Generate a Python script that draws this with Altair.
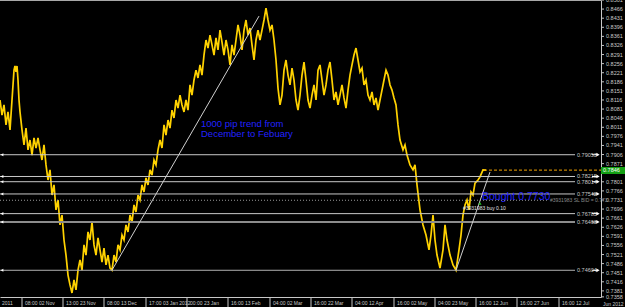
import altair as alt
import pandas as pd

# ---- price series (bar index, close) ----
bar = [0, 2, 4, 6, 8, 10, 12, 14, 15, 16, 17, 18, 19, 20, 22, 24, 26, 28, 30, 32, 34, 36, 38, 40,
       42, 44, 46, 48, 50, 52, 54, 56, 58, 60, 62, 64, 66, 68, 70, 72, 74, 76, 78, 80, 82, 84, 86,
       88, 90, 92, 94, 96, 98, 100, 102, 104, 106, 108, 110, 112, 114, 116, 118, 120, 122, 124,
       126, 128, 130, 132, 134, 136, 138, 140, 142, 144, 146, 148, 150, 152, 154, 156, 158, 160,
       162, 164, 166, 168, 170, 172, 174, 176, 178, 180, 182, 184, 186, 188, 190, 192, 194, 196,
       198, 200, 202, 204, 206, 208, 210, 212, 214, 216, 218, 220, 222, 224, 226, 228, 230, 232,
       234, 236, 238, 240, 242, 244, 246, 248, 250, 252, 254, 256, 258, 260, 262, 264, 266, 268,
       270, 272, 274, 276, 278, 280, 282, 284, 286, 288, 290, 292, 294, 296, 298, 300, 302, 304,
       306, 308, 310, 312, 314, 316, 318, 320, 322, 324, 326, 328, 330, 332, 334, 336, 338, 340,
       342, 344, 346, 348, 350, 352, 354, 356, 358, 360, 362, 364, 366, 368, 370, 372, 374, 376,
       378, 380, 382, 384, 386, 388, 390, 392, 394, 396, 398, 400, 403, 405, 407, 410, 413, 415,
       417, 420, 423, 426, 429, 431, 433, 435, 437, 440, 443, 445, 447, 450, 453, 456, 459, 461,
       463, 465, 467, 469, 471, 473, 475, 478, 480, 483, 486]
price = [0.8116, 0.8058, 0.8097, 0.8020, 0.8070, 0.8001, 0.8116, 0.8231, 0.8247, 0.8224, 0.8247,
         0.8193, 0.8116, 0.8070, 0.8001, 0.7943, 0.8008, 0.7924, 0.7962, 0.7904, 0.7970, 0.7931,
         0.7970, 0.7924, 0.7885, 0.7943, 0.7866, 0.7808, 0.7847, 0.7750, 0.7789, 0.7693, 0.7731,
         0.7635, 0.7673, 0.7577, 0.7519, 0.7442, 0.7404, 0.7373, 0.7423, 0.7385, 0.7461, 0.7500,
         0.7461, 0.7558, 0.7519, 0.7608, 0.7577, 0.7646, 0.7558, 0.7519, 0.7585, 0.7539, 0.7492,
         0.7546, 0.7481, 0.7519, 0.7469, 0.7461, 0.7519, 0.7492, 0.7558, 0.7539, 0.7596, 0.7577,
         0.7635, 0.7608, 0.7673, 0.7646, 0.7712, 0.7685, 0.7750, 0.7731, 0.7789, 0.7762, 0.7816,
         0.7789, 0.7847, 0.7827, 0.7885, 0.7866, 0.7924, 0.7962, 0.7931, 0.8020, 0.7981, 0.8039,
         0.8008, 0.8077, 0.8047, 0.8116, 0.8085, 0.8135, 0.8097, 0.8070, 0.8116, 0.8077, 0.8174,
         0.8135, 0.8193, 0.8231, 0.8201, 0.8251, 0.8212, 0.8289, 0.8347, 0.8316, 0.8366, 0.8328,
         0.8289, 0.8355, 0.8309, 0.8385, 0.8339, 0.8289, 0.8347, 0.8309, 0.8251, 0.8328, 0.8289,
         0.8347, 0.8405, 0.8366, 0.8309, 0.8385, 0.8424, 0.8366, 0.8393, 0.8328, 0.8270, 0.8347,
         0.8385, 0.8347, 0.8385, 0.8424, 0.8470, 0.8424, 0.8385, 0.8405, 0.8347, 0.8270, 0.8162,
         0.8097, 0.8135, 0.8231, 0.8270, 0.8212, 0.8174, 0.8239, 0.8193, 0.8116, 0.8077, 0.8135,
         0.8212, 0.8262, 0.8193, 0.8116, 0.8085, 0.8135, 0.8174, 0.8116, 0.8231, 0.8251, 0.8193,
         0.8135, 0.8174, 0.8231, 0.8262, 0.8193, 0.8116, 0.8147, 0.8097, 0.8135, 0.8174, 0.8124,
         0.8085, 0.8154, 0.8212, 0.8251, 0.8289, 0.8316, 0.8270, 0.8224, 0.8239, 0.8174, 0.8193,
         0.8135, 0.8116, 0.8147, 0.8097, 0.8124, 0.8077, 0.8116, 0.8154, 0.8193, 0.8231, 0.8212,
         0.8174, 0.8154, 0.8124, 0.8097, 0.8020, 0.7962, 0.7924, 0.7943, 0.7904, 0.7866, 0.7847,
         0.7866, 0.7789, 0.7693, 0.7635, 0.7596, 0.7539, 0.7596, 0.7673, 0.7577, 0.7519, 0.7469,
         0.7539, 0.7635, 0.7577, 0.7519, 0.7481, 0.7461, 0.7539, 0.7596, 0.7673, 0.7712, 0.7731,
         0.7693, 0.7762, 0.7750, 0.7796, 0.7808, 0.7820, 0.7847, 0.7846]

# ---- price axis (0.7836 sits under the current-price box, so it carries a tick only) ----
y_ticks = [0.8501, 0.8466, 0.8431, 0.8396, 0.8361, 0.8326, 0.8291, 0.8256, 0.8221, 0.8186,
           0.8151, 0.8116, 0.8081, 0.8046, 0.8011, 0.7976, 0.7941, 0.7906, 0.7871, 0.7836,
           0.7801, 0.7766, 0.7731, 0.7696, 0.7661, 0.7626, 0.7591, 0.7556, 0.7521, 0.7486,
           0.7451, 0.7416, 0.7381, 0.7358]
y_labels = [0.8501, 0.8466, 0.8431, 0.8396, 0.8361, 0.8326, 0.8291, 0.8256, 0.8221, 0.8186,
            0.8151, 0.8116, 0.8081, 0.8046, 0.8011, 0.7976, 0.7941, 0.7906, 0.7871,
            0.7801, 0.7766, 0.7731, 0.7696, 0.7661, 0.7626, 0.7591, 0.7556, 0.7521, 0.7486,
            0.7451, 0.7416, 0.7381, 0.7358]

# ---- time axis ----
x_sep = [22, 63, 104, 146, 187, 228, 270, 311, 352, 394, 435, 476, 517, 559]
x_label_pos = [2, 25, 66, 107, 149, 190, 231, 273, 314, 355, 397, 438, 479, 520, 562]
x_labels = ["2011", "08:00 02 Nov", "13:00 23 Nov", "08:00 13 Dec", "17:00 03 Jan 2012",
            "00:00 23 Jan", "16:00 13 Feb", "04:00 02 Mar", "16:00 22 Mar", "04:00 12 Apr",
            "16:00 02 May", "04:00 23 May", "16:00 12 Jun", "16:00 27 Jun", "16:00 12 Jul"]

# ---- horizontal levels ----
levels = [0.79053, 0.78215, 0.78014, 0.77542, 0.76785, 0.76463, 0.74604]
level_text = ["0.79053", "0.78215", "0.78014", "0.77542", "0.76785", "0.76463", "0.74604"]
level_width = [1, 1, 1, 1, 1, 2, 1]
level_color = ["#c8c8c8", "#c8c8c8", "#c8c8c8", "#c8c8c8", "#c8c8c8", "#8c8c8c", "#b0b0b0"]

# trend lines (bar, price)
trend1_bar = [112, 259]
trend1_price = [0.7461, 0.8439]
trend2_bar = [456, 490]
trend2_price = [0.7461, 0.7839]

bought_price = 0.7730
current_price = 0.7846

W, H = 601, 297
xs = alt.Scale(domain=[0, 601], nice=False, zero=False)
ys = alt.Scale(domain=[0.73575, 0.8501], nice=False, zero=False)
FONT = "Liberation Sans"
GRAY = "#c8c8c8"


def X(field):
    return alt.X(field, scale=xs, title=None)


def Y(field):
    return alt.Y(field, scale=ys, title=None)


df = pd.DataFrame({"bar": bar, "price": price})

base_x = alt.X("bar:Q", scale=xs, title=None,
               axis=alt.Axis(labels=False, ticks=False, grid=False, title=None))
base_y = alt.Y("price:Q", scale=ys, title=None,
               axis=alt.Axis(orient="right", labels=False, ticks=False, grid=False, title=None))

series = alt.Chart(df).mark_line(color="#FFD200", strokeWidth=1.7, strokeJoin="miter").encode(
    x=base_x, y=base_y)

# price axis ticks and labels drawn on the y scale
y_tick_marks = alt.Chart(pd.DataFrame({"v": y_ticks})).mark_rule(color=GRAY, strokeWidth=1).encode(
    x=alt.value(601), x2=alt.value(604), y=Y("v:Q"))
y_tick_labels = alt.Chart(pd.DataFrame({"v": y_labels})).mark_text(
    align="left", baseline="middle", fontSize=5.5, color=GRAY, font=FONT).encode(
    x=alt.value(606), y=Y("v:Q"), text=alt.Text("v:Q", format=".4f"))

n = len(levels)
lv = pd.DataFrame({"level": levels, "txt": level_text, "x0": [0] * n, "x1": [575] * n,
                   "a0": [592] * n, "a1": [597] * n, "ar": [598] * n, "al": [2] * n,
                   "w": level_width, "c": level_color, "tx": [577] * n})

level_rules = alt.Chart(lv).mark_rule().encode(
    x=X("x0:Q"), x2="x1:Q", y=Y("level:Q"),
    strokeWidth=alt.StrokeWidth("w:Q", scale=None), color=alt.Color("c:N", scale=None))
level_labels = alt.Chart(lv).mark_text(align="left", baseline="middle", fontSize=5.5,
                                       color=GRAY, font=FONT).encode(
    x=X("tx:Q"), y=Y("level:Q"), text="txt:N")
arrow_stems = alt.Chart(lv).mark_rule(color="white", strokeWidth=1).encode(
    x=X("a0:Q"), x2="a1:Q", y=Y("level:Q"))
arrow_heads = alt.Chart(lv).mark_point(shape="triangle-right", filled=True, color="white",
                                       size=14, opacity=1).encode(x=X("ar:Q"), y=Y("level:Q"))
arrow_left = alt.Chart(lv).mark_point(shape="triangle-left", filled=True, color="white",
                                      size=10, opacity=1).encode(x=X("al:Q"), y=Y("level:Q"))

t1 = pd.DataFrame({"bar": trend1_bar, "price": trend1_price})
t2 = pd.DataFrame({"bar": trend2_bar, "price": trend2_price})
trend1 = alt.Chart(t1).mark_line(color="#d0d0d0", strokeWidth=1).encode(
    x=X("bar:Q"), y=Y("price:Q"))
trend2 = alt.Chart(t2).mark_line(color="#d0d0d0", strokeWidth=1).encode(
    x=X("bar:Q"), y=Y("price:Q"))

bt = pd.DataFrame({"p": [bought_price], "x0": [0], "x1": [548]})
bought_line = alt.Chart(bt).mark_rule(color="#9a9a9a", strokeDash=[1, 2], strokeWidth=1).encode(
    x=X("x0:Q"), x2="x1:Q", y=Y("p:Q"))

cur = pd.DataFrame({"p": [current_price], "x0": [484], "x1": [601]})
cur_line = alt.Chart(cur).mark_rule(color="#F0A000", strokeDash=[3, 2], strokeWidth=1).encode(
    x=X("x0:Q"), x2="x1:Q", y=Y("p:Q"))

box = pd.DataFrame({"x0": [601], "x1": [625], "p0": [0.7858], "p1": [0.7831],
                    "p": [current_price], "tx": [603], "t": ["0.7846"]})
cur_box = alt.Chart(box).mark_rect(color="#14a014").encode(
    x=X("x0:Q"), x2="x1:Q", y=Y("p0:Q"), y2="p1:Q")
cur_txt = alt.Chart(box).mark_text(align="left", baseline="middle", fontSize=5.5,
                                   color="white", font=FONT).encode(
    x=X("tx:Q"), y=Y("p:Q"), text="t:N")

notes = pd.DataFrame({
    "x": [201, 201, 482, 550, 463],
    "p": [0.80255, 0.79870, 0.77406, 0.7730, 0.7700],
    "t": ["1000 pip trend from", "December to Febuary", "Bought 0.7730",
          "#3931983 SL BID = 0.773", "#3931983 buy 0.10"],
    "s": [9.5, 9.5, 10.5, 5, 5],
    "c": ["#2222ff", "#2222ff", "#2222ff", "#8a8a8a", "#e0e0e0"],
})
note_txt = alt.Chart(notes).mark_text(align="left", baseline="middle", font=FONT).encode(
    x=X("x:Q"), y=Y("p:Q"), text="t:N",
    size=alt.Size("s:Q", scale=None), color=alt.Color("c:N", scale=None))

buy_mark = alt.Chart(pd.DataFrame({"x": [480], "p": [0.7718]})).mark_point(
    shape="triangle-up", filled=True, color="#20c020", size=10, opacity=1).encode(
    x=X("x:Q"), y=Y("p:Q"))

seps = alt.Chart(pd.DataFrame({"x": x_sep})).mark_rule(color=GRAY, strokeWidth=1).encode(
    x=X("x:Q"), y=alt.value(297), y2=alt.value(307))
xlab = alt.Chart(pd.DataFrame({"x": x_label_pos, "t": x_labels})).mark_text(
    align="left", baseline="middle", fontSize=5, color=GRAY, font=FONT).encode(
    x=X("x:Q"), y=alt.value(302.5), text="t:N")
corner = alt.Chart(pd.DataFrame({"t": ["Jun 2012"]})).mark_text(
    align="left", baseline="middle", fontSize=5, color=GRAY, font=FONT).encode(
    x=alt.value(603), y=alt.value(303.5), text="t:N")

top = alt.Chart(pd.DataFrame({"x0": [0], "x1": [601]})).mark_rule(color="#a8a8a8").encode(
    x=X("x0:Q"), x2="x1:Q", y=alt.value(0.5))

chart = alt.layer(
    series, y_tick_marks, y_tick_labels, level_rules, level_labels, arrow_stems, arrow_heads,
    arrow_left, trend1, trend2, bought_line, cur_line, cur_box, cur_txt, note_txt, buy_mark,
    seps, xlab, corner, top
).properties(
    width=W, height=H, background="black", autosize="none",
    padding={"left": 0, "top": 0, "right": 24, "bottom": 10}
).configure_view(stroke=None).configure_axis(
    grid=False, domainColor=GRAY, domainWidth=1, labels=False, ticks=False
)

chart.save("out.html", embed_options={"renderer": "svg", "actions": False})
